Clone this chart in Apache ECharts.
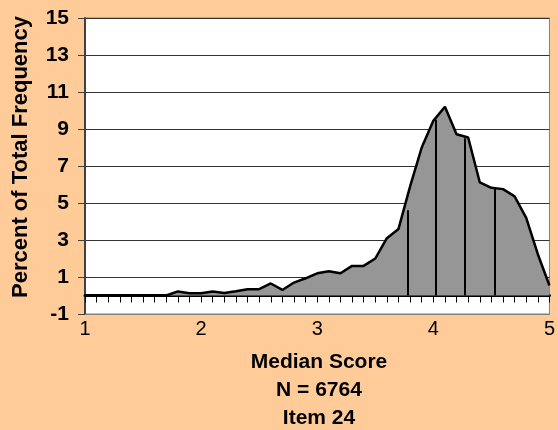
<!DOCTYPE html>
<html>
<head>
<meta charset="utf-8">
<script src="https://cdn.jsdelivr.net/npm/echarts@6/dist/echarts.min.js"></script>
<style>
html,body{margin:0;padding:0;background:#FFCC99;}
#c{width:558px;height:430px;}
</style>
</head>
<body>
<div id="c"></div>
<script>
// Median score categories (x) and percent of total frequency (y)
const scores = [1.0,1.1,1.2,1.3,1.4,1.5,1.6,1.7,1.8,1.9,2.0,2.1,2.2,2.3,2.4,2.5,2.6,2.7,2.8,2.9,3.0,3.1,3.2,3.3,3.4,3.5,3.6,3.7,3.8,3.9,4.0,4.1,4.2,4.3,4.4,4.5,4.6,4.7,4.8,4.9,5.0];
const percents = [0,0,0,0,0,0,0,0,0.22,0.12,0.12,0.22,0.14,0.23,0.34,0.34,0.65,0.3,0.7,0.93,1.2,1.31,1.2,1.6,1.6,2.0,3.1,3.6,5.9,8.0,9.44,10.2,8.72,8.54,6.12,5.82,5.75,5.36,4.2,2.23,0.54];
// Vertical marker lines
const markerScores = [3.78, 4.02, 4.27, 4.53];
const markerHeights = [4.61, 9.5, 8.5, 5.78];
// Axis settings / labels
const yMin = -1, yMax = 15, yStep = 2;
const xMin = 1, xMax = 5;
const yTitle = 'Percent of Total Frequency';
const xTitleLines = ['Median Score', 'N = 6764', 'Item 24'];

const chart = echarts.init(document.getElementById('c'));
const FONT = 'Liberation Sans, Arial, sans-serif';

const markData = markerScores.map((s, i) => [{coord: [s, 0]}, {coord: [s, markerHeights[i]]}]);

const option = {
  backgroundColor: '#FFCC99',
  animation: false,
  grid: {left: 85, right: 4, top: 18, bottom: 116, show: true, backgroundColor: '#ffffff', borderColor: '#808080', borderWidth: 1},
  xAxis: [
    {
      type: 'value', min: xMin, max: xMax, interval: 1, position: 'bottom',
      axisLine: {onZero: false, lineStyle: {color: '#808080', width: 1}},
      axisTick: {show: false},
      splitLine: {show: false},
      axisLabel: {color: '#000', fontFamily: FONT, fontSize: 20, margin: 5}
    },
    {
      type: 'value', min: xMin, max: xMax, interval: 0.1, position: 'bottom',
      axisLine: {onZero: true, lineStyle: {color: '#000', width: 3}},
      axisTick: {show: true, length: 7, lineStyle: {color: '#000', width: 1}},
      splitLine: {show: false},
      axisLabel: {show: false}
    }
  ],
  yAxis: {
    type: 'value', min: yMin, max: yMax, interval: yStep,
    axisLine: {show: true, lineStyle: {color: '#404040', width: 2}},
    axisTick: {show: true, length: 7, lineStyle: {color: '#404040', width: 1}},
    splitLine: {show: true, lineStyle: {color: '#333333', width: 1}},
    axisLabel: {color: '#000', fontFamily: FONT, fontSize: 21, fontWeight: 'bold', margin: 16}
  },
  series: [{
    type: 'line',
    xAxisIndex: 0,
    data: scores.map((s, i) => [s, percents[i]]),
    symbol: 'none',
    lineStyle: {color: '#000', width: 2.5},
    areaStyle: {color: '#969696', opacity: 1},
    z: 2,
    markLine: {
      silent: true, symbol: 'none', label: {show: false},
      lineStyle: {color: '#000', width: 2, type: 'solid'},
      data: markData
    }
  }],
  graphic: [
    {type: 'text', x: 21, y: 157, rotation: Math.PI / 2,
     style: {text: yTitle, font: 'bold 22px ' + FONT, fill: '#000', textAlign: 'center', textVerticalAlign: 'middle'}},
    ...xTitleLines.map((t, i) => ({type: 'text', x: 319, y: 362 + i * 28,
      style: {text: t, font: 'bold 21px ' + FONT, fill: '#000', textAlign: 'center', textVerticalAlign: 'middle'}}))
  ]
};
chart.setOption(option);
</script>
</body>
</html>
